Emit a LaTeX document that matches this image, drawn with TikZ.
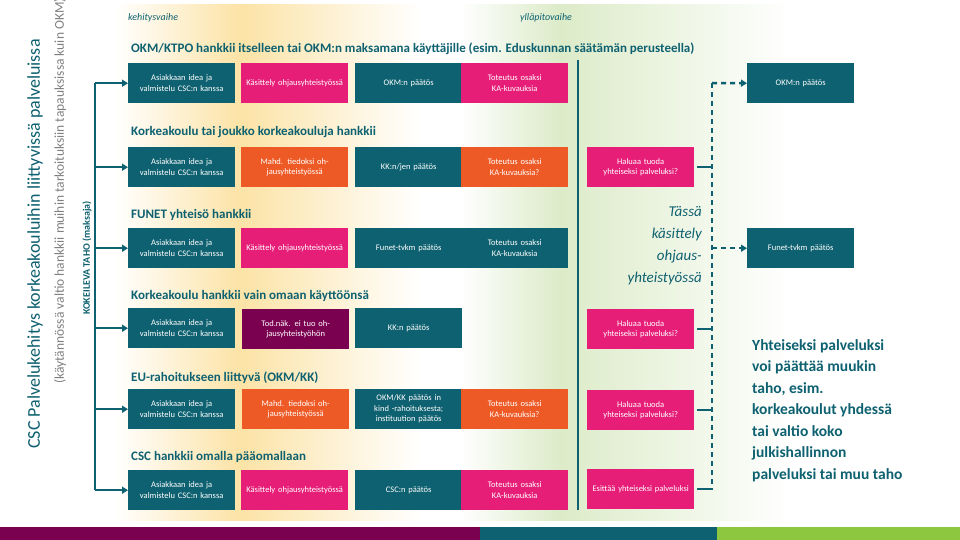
\documentclass[tikz,border=0pt]{standalone}
\usepackage{fontspec}
\setmainfont{Carlito}
\usetikzlibrary{arrows.meta}
\definecolor{teal}{HTML}{0E6170}
\definecolor{pinkc}{HTML}{E61E78}
\definecolor{orangec}{HTML}{EE5A26}
\definecolor{purplec}{HTML}{7A0050}
\definecolor{greenc}{HTML}{8DC63F}
\definecolor{yel}{HTML}{FCE3A6}
\definecolor{grn}{HTML}{DCEBC8}
\tikzset{
 bx/.style={minimum width=107pt,minimum height=40pt,text width=102pt,align=center,inner sep=0pt,text=white,font=\fontsize{8.5}{10.5}\selectfont,anchor=north west},
 tl/.style={bx,fill=teal}, pk/.style={bx,fill=pinkc}, og/.style={bx,fill=orangec}, pu/.style={bx,fill=purplec},
 hd/.style={anchor=west,text=teal,font=\fontsize{13}{15}\bfseries\selectfont,inner sep=0pt},
 arr/.style={teal,line width=2.5pt,-{Triangle[length=6pt,width=7pt]}},
 darr/.style={teal,line width=2.5pt,dash pattern=on 5pt off 4pt,-{Triangle[length=6pt,width=7pt]}},
 tick/.style={teal,line width=2.5pt}
}
\begin{document}
\begin{tikzpicture}[x=1pt,y=-1pt]
\useasboundingbox (0,0) rectangle (960,540);
\fill[white] (0,0) rectangle (960,540);
% backgrounds
\shade[left color=white,right color=yel] (115,5) rectangle (240,520);
\shade[left color=yel,right color=white] (240,5) rectangle (420,520);
\shade[left color=white,right color=grn] (460,5) rectangle (560,520);
\shade[left color=grn,right color=white] (560,5) rectangle (790,520);
% bottom bars
\fill[purplec] (0,527) rectangle (480,540);
\fill[teal] (480,527) rectangle (717,540);
\fill[greenc] (717,527) rectangle (960,540);
% side titles
\node[rotate=90,text=teal,font=\fontsize{18}{20}\selectfont,inner sep=0pt] (t1) at (35,244) {CSC Palvelukehitys korkeakouluihin liittyvissä palveluissa};
\node[rotate=90,text=gray,font=\fontsize{13.5}{15}\selectfont,inner sep=0pt] (t2) at (60,191) {(käytännössä valtio hankkii muihin tarkoituksiin tapauksissa kuin OKM)};
\node[rotate=90,text=teal,font=\fontsize{10}{12}\bfseries\selectfont,inner sep=0pt] (t3) at (87,258) {KOKEILEVA TAHO (maksaja)};
% phase labels
\node[anchor=west,text=teal,font=\fontsize{10}{12}\itshape\selectfont,inner sep=0pt] (ph1) at (128,18) {kehitysvaihe};
\node[anchor=west,text=teal,font=\fontsize{10}{12}\itshape\selectfont,inner sep=0pt] (ph2) at (520,18) {ylläpitovaihe};
% headings
\node[hd] (h1) at (131,49) {OKM/KTPO hankkii itselleen tai OKM:n maksamana käyttäjille (esim. Eduskunnan säätämän perusteella)};
\node[hd] (h2) at (131,132) {Korkeakoulu tai joukko korkeakouluja hankkii};
\node[hd] (h3) at (131,215) {FUNET yhteisö hankkii};
\node[hd] (h4) at (131,296) {Korkeakoulu hankkii vain omaan käyttöönsä};
\node[hd] (h5) at (131,378) {EU-rahoitukseen liittyvä (OKM/KK)};
\node[hd] (h6) at (131,457) {CSC hankkii omalla pääomallaan};
% row 1
\node[tl] (a1) at (128,63) {Asiakkaan idea ja valmistelu CSC:n kanssa};
\node[pk] (b1) at (241,63) {Käsittely ohjausyhteistyössä};
\node[tl] (c1) at (355,63) {OKM:n päätös};
\node[pk] (d1) at (461,63) {Toteutus osaksi KA-kuvauksia};
\node[tl] (r1) at (747,63) {OKM:n päätös};
% row 2
\node[tl] (a2) at (128,147) {Asiakkaan idea ja valmistelu CSC:n kanssa};
\node[og] (b2) at (241,147) {Mahd. tiedoksi ohjausyhteistyössä};
\node[tl] (c2) at (355,147) {KK:n/jen päätös};
\node[og] (d2) at (461,147) {Toteutus osaksi KA-kuvauksia?};
\node[pk] (e2) at (587,147) {Haluaa tuoda yhteiseksi palveluksi?};
% row 3
\node[tl] (a3) at (128,228) {Asiakkaan idea ja valmistelu CSC:n kanssa};
\node[pk] (b3) at (241,228) {Käsittely ohjausyhteistyössä};
\node[tl] (c3) at (355,228) {Funet-tvkm päätös};
\node[tl] (d3) at (461,228) {Toteutus osaksi KA-kuvauksia};
\node[tl] (r3) at (747,228) {Funet-tvkm päätös};
% row 4
\node[tl] (a4) at (128,308) {Asiakkaan idea ja valmistelu CSC:n kanssa};
\node[pu] (b4) at (242,309) {Tod.näk. ei tuo ohjausyhteistyöhön};
\node[tl] (c4) at (355,308) {KK:n päätös};
\node[pk] (e4) at (587,309) {Haluaa tuoda yhteiseksi palveluksi?};
% row 5
\node[tl] (a5) at (128,389) {Asiakkaan idea ja valmistelu CSC:n kanssa};
\node[og] (b5) at (242,389) {Mahd. tiedoksi ohjausyhteistyössä};
\node[tl] (c5) at (355,389) {OKM/KK päätös in kind -rahoituksesta; instituution päätös};
\node[og] (d5) at (461,389) {Toteutus osaksi KA-kuvauksia?};
\node[pk] (e5) at (587,390) {Haluaa tuoda yhteiseksi palveluksi?};
% row 6
\node[tl] (a6) at (128,470) {Asiakkaan idea ja valmistelu CSC:n kanssa};
\node[pk] (b6) at (241,470) {Käsittely ohjausyhteistyössä};
\node[tl] (c6) at (355,470) {CSC:n päätös};
\node[pk] (d6) at (461,470) {Toteutus osaksi KA-kuvauksia};
\node[pk] (e6) at (587,469) {Esittää yhteiseksi palveluksi};
% left bracket
\coordinate (lt) at (95,83);
\coordinate (lb) at (95,490);
\draw[tick] (lt) -- (lb);
\foreach \n in {a1,a2,a3,a4,a5,a6}{
 \draw[arr] (95,0 |- \n.west) -- (\n.west);
}
% phase divider
\coordinate (v1) at (578,60);
\coordinate (v2) at (578,510);
\draw[tick] (v1) -- (v2);
% dashed bracket
\coordinate (dt) at (712,83);
\coordinate (db) at (712,490);
\draw[teal,line width=2.5pt,dash pattern=on 5pt off 4pt] (dt) -- (db);
\draw[darr] (dt) -- (r1.west);
\draw[darr] (712,0 |- r3.west) -- (r3.west);
\foreach \n in {e2,e4,e5,e6}{
 \draw[tick] (\n.east) ++(3,0) -- (712,0 |- \n.east);
}
% italic note
\node[anchor=north east,align=right,text=teal,font=\fontsize{15}{22}\itshape\selectfont,inner sep=0pt] (note) at (702,206) {Tässä\\käsittely\\ohjaus-\\yhteistyössä};
% right text
\node[anchor=north west,align=left,text=teal,font=\fontsize{15.5}{21.5}\bfseries\selectfont,inner sep=0pt] (rt) at (752,339) {Yhteiseksi palveluksi\\voi päättää muukin\\taho, esim.\\korkeakoulut yhdessä\\tai valtio koko\\julkishallinnon\\palveluksi tai muu taho};
\end{tikzpicture}
\end{document}
